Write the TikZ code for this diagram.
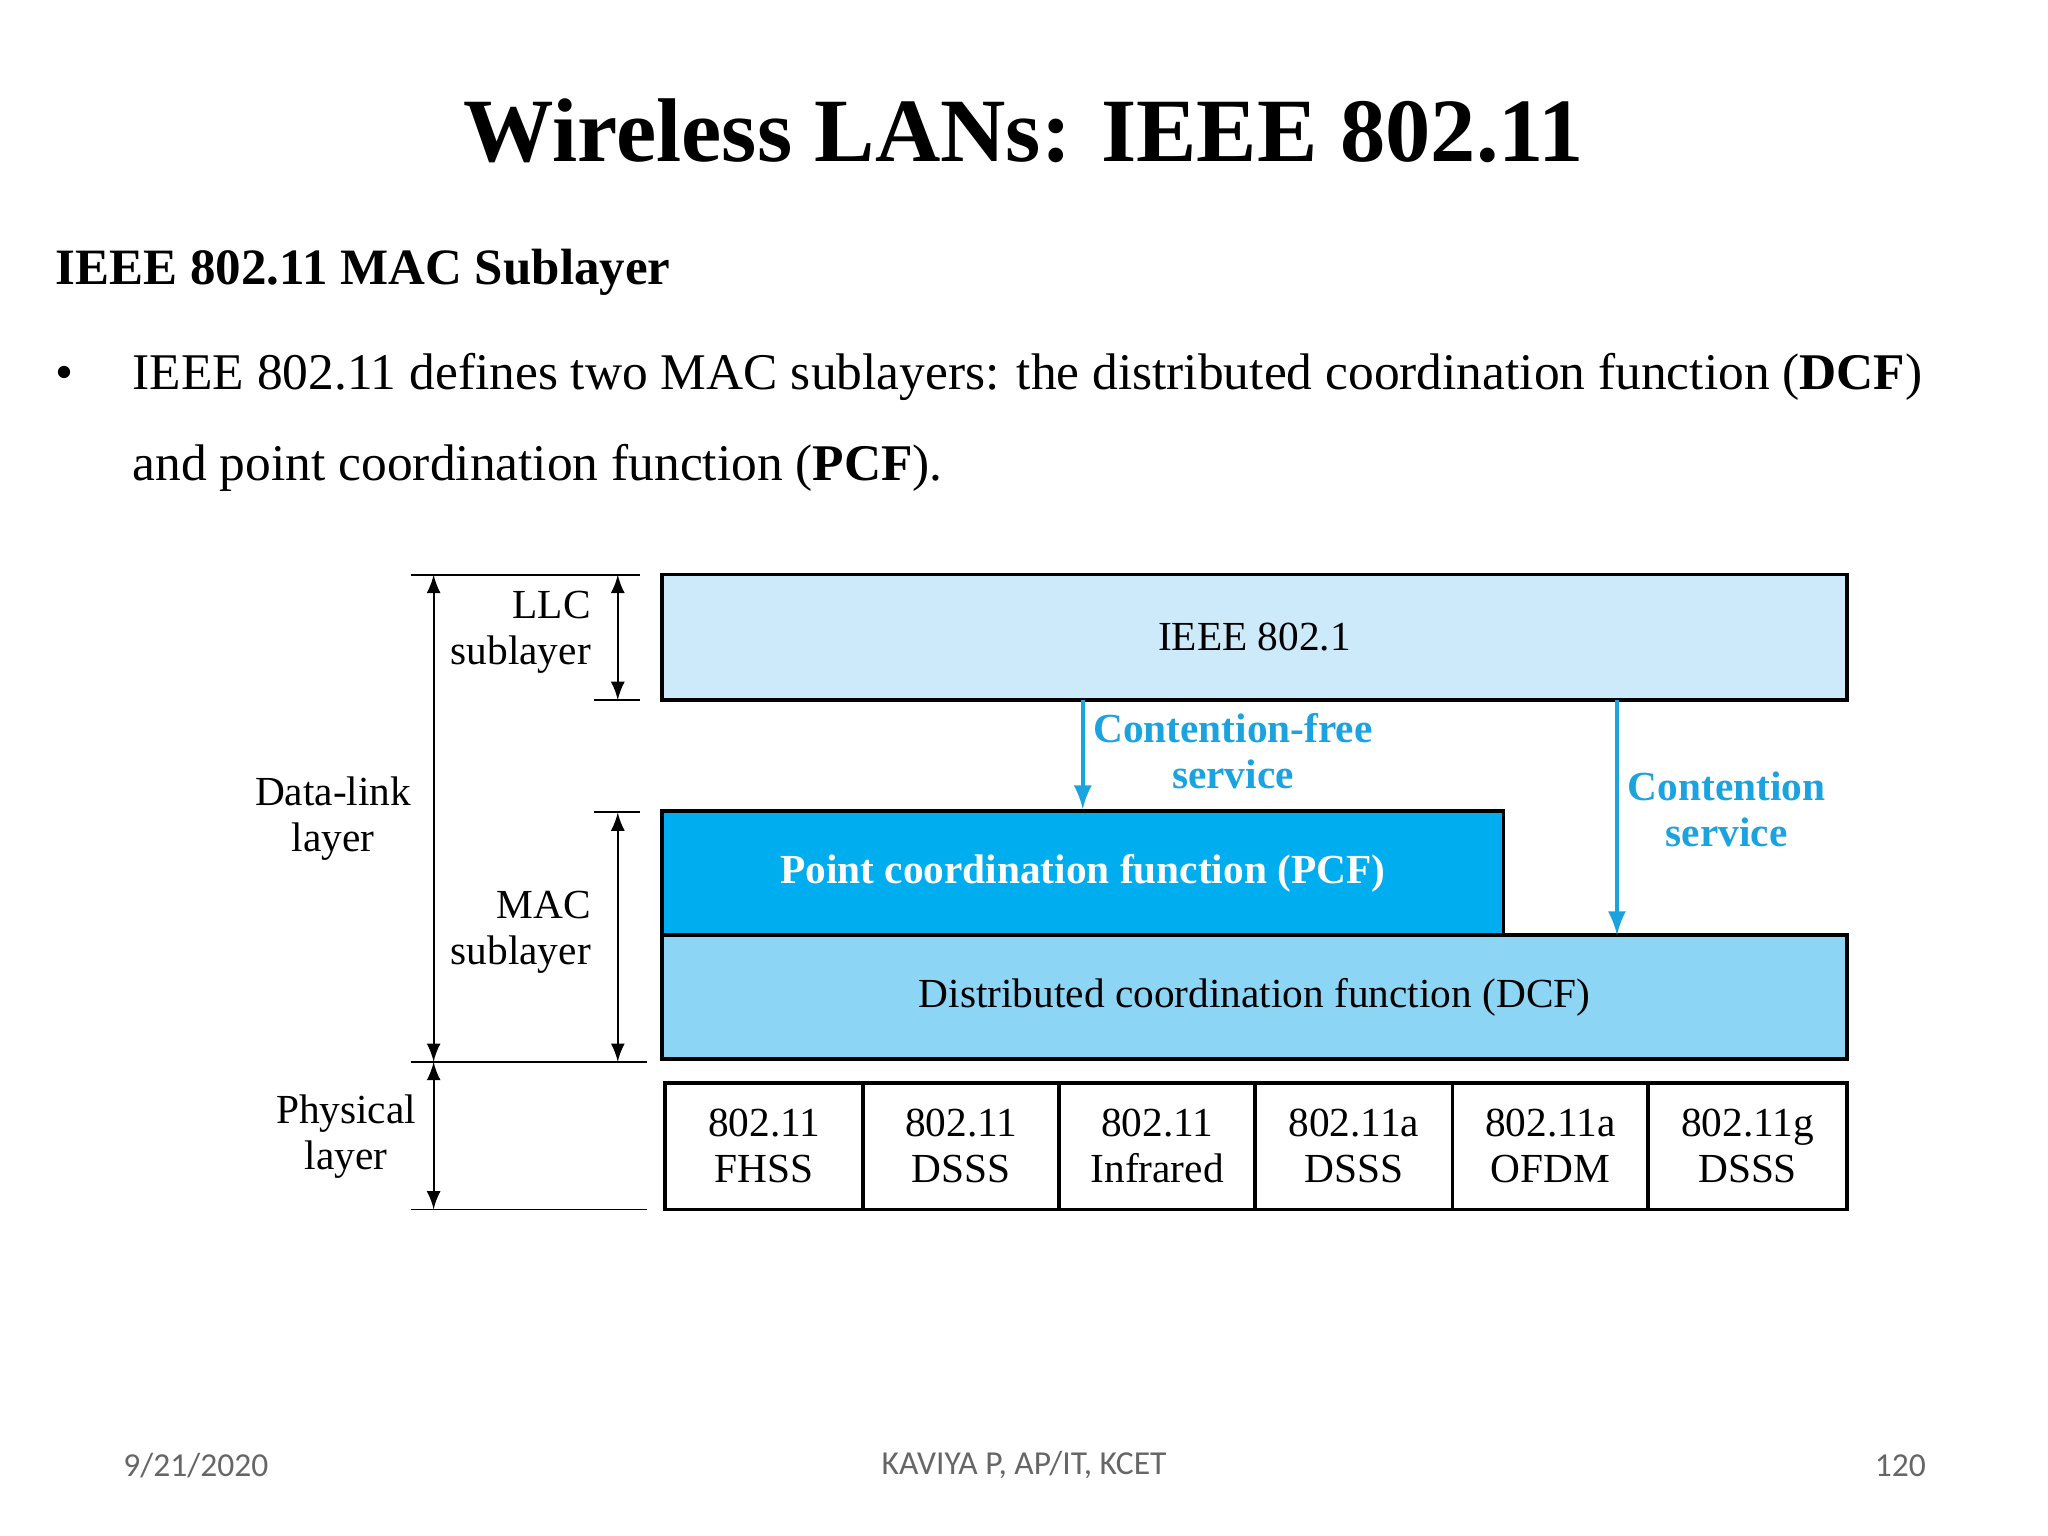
\documentclass[tikz,border=0pt]{standalone}
\usepackage{fontspec}
\setmainfont{Liberation Serif}
\newfontfamily\footfont{Carlito}
\usetikzlibrary{positioning}
\usetikzlibrary{arrows}
\definecolor{llc-blue}{HTML}{CDEAFA}
\definecolor{pcf-blue}{HTML}{00AEEF}
\definecolor{dcf-blue}{HTML}{8DD5F4}
\definecolor{label-blue}{HTML}{1BA3E0}
\tikzset{
  layer box/.style={draw, thick, inner sep=0pt, font=\fontsize{9}{11}\selectfont},
  phy box/.style={layer box, minimum height=0.97cm, align=center, font=\fontsize{9}{10}\selectfont},
  side label/.style={font=\fontsize{9}{10}\selectfont, align=center, inner sep=0pt},
  service label/.style={font=\fontsize{9}{10}\selectfont\bfseries, text=label-blue, align=center, inner sep=0pt},
  service path/.style={label-blue, thick, -latex},
  span path/.style={thin, latex-latex},
}
\begin{document}
\begin{tikzpicture}[x=0.01cm, y=-0.01cm]
\useasboundingbox (0,0) rectangle (1568,1176);
% title and text
\node[font=\fontsize{19.7}{22}\selectfont\bfseries] (title) at (784,100) {Wireless LANs: IEEE 802.11};
\node[anchor=base west, inner sep=0pt, font=\fontsize{11.1}{13}\selectfont\bfseries] (sub) at (42,218) {IEEE 802.11 MAC Sublayer};
\node[anchor=base west, inner sep=0pt, font=\fontsize{11.2}{13}\selectfont] (bullet) at (42,298) {•};
\node[anchor=base west, inner sep=0pt, font=\fontsize{11.2}{13}\selectfont] (line1) at (101,298) {IEEE 802.11 defines two MAC sublayers: the distributed coordination function (\textbf{DCF})};
\node[anchor=base west, inner sep=0pt, font=\fontsize{11.2}{13}\selectfont] (line2) at (101,368) {and point coordination function (\textbf{PCF}).};
% boxes
\node[layer box, fill=llc-blue, minimum width=9.07cm, minimum height=0.96cm] (llc) at (960.5,488) {IEEE 802.1};
\node[layer box, fill=pcf-blue, text=white, font=\fontsize{9}{11}\selectfont\bfseries, minimum width=6.44cm, minimum height=0.95cm] (pcf) at (829,668.5) {Point coordination function (PCF)};
\node[layer box, fill=dcf-blue, minimum width=9.07cm, minimum height=0.95cm] (dcf) at (960.5,763.5) {Distributed coordination function (DCF)};
\foreach \x/\w/\t [count=\i] in {585/1.52/{802.11\\FHSS}, 736/1.50/{802.11\\DSSS}, 886/1.50/{802.11\\Infrared}, 1036.5/1.51/{802.11a\\DSSS}, 1187/1.50/{802.11a\\OFDM}, 1338/1.52/{802.11g\\DSSS}}
  \node[phy box, minimum width=\w cm] (phy\i) at (\x,877.5) {\t};
% services
\coordinate (cf top) at (829,536);
\coordinate (c top) at (1238,536);
\coordinate (c end) at (1238,716);
\draw[service path] (cf top) -- (cf top |- pcf.north);
\draw[service path] (c top) -- (c end);
\node[service label] (cf label) at (944,575) {Contention-free\\service};
\node[service label] (c label) at (1322,620) {Contention\\service};
% left scale
\coordinate (t1) at (315,440); \coordinate (t2) at (490,440);
\coordinate (l1) at (455,536); \coordinate (l2) at (490,536);
\coordinate (m1) at (455,622); \coordinate (m2) at (490,622);
\coordinate (d1) at (315,813); \coordinate (d2) at (495,813);
\coordinate (p1) at (315,926); \coordinate (p2) at (495,926);
\draw (t1) -- (t2) (l1) -- (l2) (m1) -- (m2) (d1) -- (d2) (p1) -- (p2);
\draw[span path] (332,440) -- (332,813);
\draw[span path] (332,813) -- (332,926);
\draw[span path] (473,440) -- (473,536);
\draw[span path] (473,622) -- (473,813);
\node[side label, align=right, anchor=east] (llc label) at (453,484) {LLC\\sublayer};
\node[side label] (dl label) at (255,627) {Data-link\\layer};
\node[side label, align=right, anchor=east] (mac label) at (453,714) {MAC\\sublayer};
\node[side label] (phy label) at (265,870) {Physical\\layer};
% footer
\node[font=\footfont\fontsize{7.3}{9}\selectfont, text=black!60] (date) at (150,1122) {9/21/2020};
\node[font=\footfont\fontsize{7.3}{9}\selectfont, text=black!60] (author) at (784,1122) {KAVIYA P, AP/IT, KCET};
\node[font=\footfont\fontsize{7.3}{9}\selectfont, text=black!60] (page) at (1455,1122) {120};
\end{tikzpicture}
\end{document}
